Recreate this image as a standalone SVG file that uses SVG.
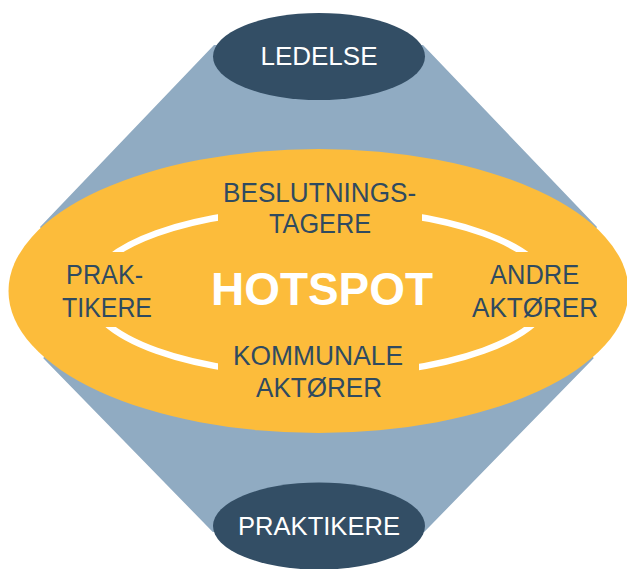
<svg xmlns="http://www.w3.org/2000/svg" width="627" height="569" viewBox="0 0 627 569">
  <style>
    .lbl { font-family: "Liberation Sans", Arial, Helvetica, sans-serif; fill: #2f4a60; font-size: 27px; text-anchor: middle; }
    .cap { font-family: "Liberation Sans", Arial, Helvetica, sans-serif; fill: #ffffff; font-size: 26px; text-anchor: middle; }
    .hot { font-family: "Liberation Sans", Arial, Helvetica, sans-serif; fill: #ffffff; font-size: 46px; font-weight: bold; text-anchor: middle; }
    .dark { fill: #334e65; }
  </style>
  <defs>
    <mask id="ringGaps" maskUnits="userSpaceOnUse" x="0" y="0" width="627" height="569">
      <rect x="0" y="0" width="627" height="569" fill="#fff"/>
      <rect x="218" y="180" width="204" height="60" fill="#000"/>
      <rect x="218" y="340" width="201" height="60" fill="#000"/>
      <rect x="50" y="252" width="125" height="75" fill="#000"/>
      <rect x="462" y="252" width="125" height="75" fill="#000"/>
    </mask>
  </defs>

  <g id="background">
    <polygon fill="#90abc2" points="214,45 423,45 597,227 557,291 593.7,358.3 424.2,532 212.8,532 43.3,358.3 80,291 40,227"/>
  </g>

  <g id="ledelse">
    <ellipse class="dark" cx="319" cy="56.5" rx="106" ry="43.5"/>
    <text class="cap" x="319" y="65">LEDELSE</text>
  </g>

  <g id="praktikere-bottom">
    <ellipse class="dark" cx="319" cy="526" rx="106" ry="43.5"/>
    <text class="cap" x="319" y="535" textLength="162" lengthAdjust="spacingAndGlyphs">PRAKTIKERE</text>
  </g>

  <g id="hotspot">
    <ellipse cx="318.5" cy="291" rx="310" ry="142" fill="#fcbc3b"/>
    <ellipse cx="320" cy="292" rx="231" ry="83" fill="none" stroke="#ffffff" stroke-width="6.5" mask="url(#ringGaps)"/>
    <text class="hot" x="322" y="305" textLength="222" lengthAdjust="spacingAndGlyphs">HOTSPOT</text>
  </g>

  <g id="beslutningstagere">
    <text class="lbl" x="319.6" y="202" textLength="193" lengthAdjust="spacingAndGlyphs">BESLUTNINGS-</text>
    <text class="lbl" x="320" y="233" textLength="102" lengthAdjust="spacingAndGlyphs">TAGERE</text>
  </g>

  <g id="praktikere">
    <text class="lbl" x="104.6" y="284" textLength="77" lengthAdjust="spacingAndGlyphs">PRAK-</text>
    <text class="lbl" x="107" y="316.7" textLength="90" lengthAdjust="spacingAndGlyphs">TIKERE</text>
  </g>

  <g id="andre-aktorer">
    <text class="lbl" x="534.6" y="284" textLength="89" lengthAdjust="spacingAndGlyphs">ANDRE</text>
    <text class="lbl" x="535" y="316.7" textLength="126" lengthAdjust="spacingAndGlyphs">AKTØRER</text>
  </g>

  <g id="kommunale-aktorer">
    <text class="lbl" x="318" y="365" textLength="170" lengthAdjust="spacingAndGlyphs">KOMMUNALE</text>
    <text class="lbl" x="319" y="397.3" textLength="126" lengthAdjust="spacingAndGlyphs">AKTØRER</text>
  </g>

  <g id="connectors"></g>
</svg>
